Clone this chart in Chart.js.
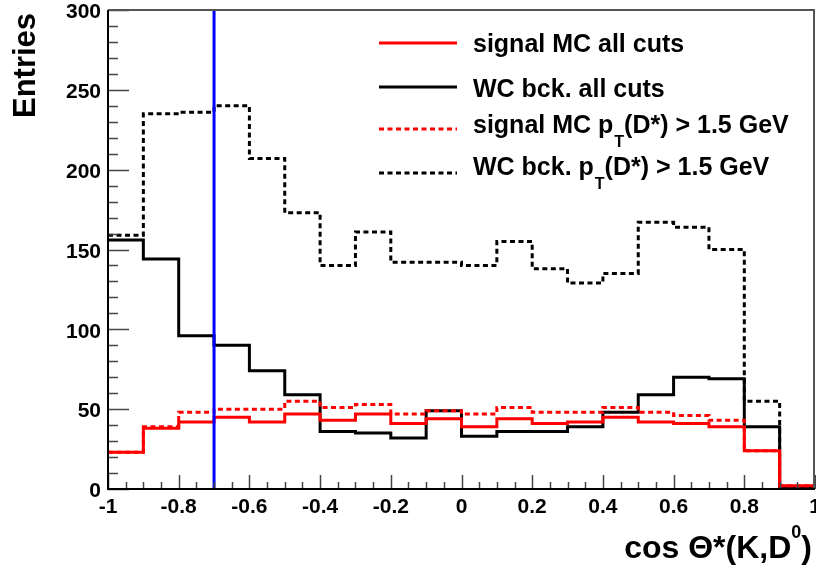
<!DOCTYPE html>
<html>
<head>
<meta charset="utf-8">
<script src="https://cdn.jsdelivr.net/npm/chart.js@4"></script>
<style>
  html, body { margin: 0; padding: 0; background: #fff; }
  canvas { display: block; }
</style>
</head>
<body>
<canvas id="histo" width="816" height="565"></canvas>
<script>
// bin edges of cos theta*
const binEdges = [-1, -0.9, -0.8, -0.7, -0.6, -0.5, -0.4, -0.3, -0.2, -0.1, 0, 0.1, 0.2, 0.3, 0.4, 0.5, 0.6, 0.7, 0.8, 0.9, 1];

const signalAllCuts = [23, 38, 42, 45, 42, 47, 43, 47, 41, 44, 39, 44, 41, 42, 45, 42, 41, 39, 24, 2];
const wcAllCuts     = [156, 144, 96, 90, 74, 59, 36, 35, 32, 49, 33, 36, 36, 39, 48, 59, 70, 69, 39, 1];
const signalPtCut   = [23, 39, 48, 50, 50, 55, 51, 53, 47, 49, 47, 51, 48, 48, 51, 48, 46, 43, 24, 2];
const wcPtCut       = [159, 235, 236, 240, 207, 173, 140, 161, 142, 142, 140, 155, 138, 129, 135, 167, 164, 150, 55, 0];

const cutValue = -0.7;
const yTicks = [0, 50, 100, 150, 200, 250, 300];
const xTicks = [-1, -0.8, -0.6, -0.4, -0.2, 0, 0.2, 0.4, 0.6, 0.8, 1];

const legendLabels = [
  ['signal MC all cuts'],
  ['WC bck. all cuts'],
  ['signal MC p', 'T', '(D*) > 1.5 GeV'],
  ['WC bck. p', 'T', '(D*) > 1.5 GeV']
];

const FONT = '"Liberation Sans", Arial, Helvetica, sans-serif';

function steps(vals) {
  return binEdges.map((x, i) => ({ x, y: vals[Math.min(i, vals.length - 1)] }));
}

const histos = [
  { label: 'WC bck. pT(D*) > 1.5 GeV', data: steps(wcPtCut), color: '#000000', dash: [5, 3.5], order: 4 },
  { label: 'WC bck. all cuts', data: steps(wcAllCuts), color: '#000000', dash: [], order: 3 },
  { label: 'signal MC pT(D*) > 1.5 GeV', data: steps(signalPtCut), color: '#ff0000', dash: [5, 3.5], order: 2 },
  { label: 'signal MC all cuts', data: steps(signalAllCuts), color: '#ff0000', dash: [], order: 1 }
];

const datasets = histos.map(h => ({
  label: h.label,
  data: h.data,
  borderColor: h.color,
  borderWidth: 3,
  borderDash: h.dash,
  borderJoinStyle: 'miter',
  stepped: 'before',
  pointRadius: 0,
  fill: false,
  order: h.order
}));

datasets.push({
  label: 'cut',
  data: [{ x: cutValue, y: yTicks[0] }, { x: cutValue, y: yTicks[yTicks.length - 1] }],
  borderColor: '#0000ff',
  borderWidth: 3,
  pointRadius: 0,
  order: 0
});

// legend order as drawn in the picture
const legendStyle = [
  { color: '#ff0000', dash: [], lineY: 43, baseY: 52 },
  { color: '#000000', dash: [], lineY: 87, baseY: 97 },
  { color: '#ff0000', dash: [5, 3.5], lineY: 129, baseY: 133 },
  { color: '#000000', dash: [5, 3.5], lineY: 173, baseY: 175 }
];

const frameAndText = {
  id: 'frameAndText',
  afterDraw(chart) {
    const ctx = chart.ctx;
    const a = chart.chartArea;
    const xs = chart.scales.x, ys = chart.scales.y;
    ctx.save();

    // ticks inside the frame
    ctx.strokeStyle = '#444';
    ctx.lineWidth = 1.5;
    ctx.beginPath();
    for (let v = ys.min; v <= ys.max + 1e-6; v += 10) {
      const py = Math.round(ys.getPixelForValue(v)) + 0.5;
      const len = (v % 50 === 0) ? 21 : 10;
      ctx.moveTo(a.left, py);
      ctx.lineTo(a.left + len, py);
    }
    for (let k = 0; k <= 40; k++) {
      const v = xs.min + k * 0.05;
      const px = Math.round(xs.getPixelForValue(v)) + 0.5;
      const len = (k % 4 === 0) ? 14 : 7;
      ctx.moveTo(px, a.bottom);
      ctx.lineTo(px, a.bottom - len);
    }
    ctx.stroke();

    // frame
    ctx.lineWidth = 2;
    ctx.strokeStyle = '#555';
    ctx.beginPath();
    ctx.moveTo(a.left, a.top);
    ctx.lineTo(a.right - 1, a.top);
    ctx.lineTo(a.right - 1, a.bottom);
    ctx.stroke();
    ctx.strokeStyle = '#000';
    ctx.beginPath();
    ctx.moveTo(a.left, a.top);
    ctx.lineTo(a.left, a.bottom);
    ctx.lineTo(a.right, a.bottom);
    ctx.stroke();

    // legend
    legendLabels.forEach((parts, i) => {
      const st = legendStyle[i];
      ctx.strokeStyle = st.color;
      ctx.lineWidth = 3;
      ctx.setLineDash(st.dash);
      ctx.beginPath();
      ctx.moveTo(379, st.lineY);
      ctx.lineTo(457, st.lineY);
      ctx.stroke();
      ctx.setLineDash([]);

      ctx.fillStyle = '#000';
      ctx.textBaseline = 'alphabetic';
      ctx.textAlign = 'left';
      let x = 473;
      parts.forEach((p, j) => {
        if (j === 1) {
          ctx.font = 'bold 16px ' + FONT;
          ctx.fillText(p, x + 1, st.baseY + 14);
          x += ctx.measureText(p).width + 1;
        } else {
          ctx.font = 'bold 25px ' + FONT;
          ctx.fillText(p, x, st.baseY);
          x += ctx.measureText(p).width;
        }
      });
    });

    // y title
    ctx.save();
    ctx.translate(35, 118);
    ctx.rotate(-Math.PI / 2);
    ctx.font = 'bold 31px ' + FONT;
    ctx.fillStyle = '#000';
    ctx.textAlign = 'left';
    ctx.fillText('Entries', 0, 0);
    ctx.restore();

    // x title, right aligned
    const big = 'bold 32px ' + FONT, small = 'bold 18px ' + FONT;
    const pieces = [['cos \u0398*(K,D', big, 0], ['0', small, -20], [')', big, 0]];
    let total = 0;
    pieces.forEach(p => { ctx.font = p[1]; total += ctx.measureText(p[0]).width; });
    let tx = 812 - total;
    const base = 558;
    pieces.forEach(p => {
      ctx.font = p[1];
      ctx.fillText(p[0], tx, base + p[2]);
      tx += ctx.measureText(p[0]).width;
    });

    ctx.restore();
  }
};

new Chart(document.getElementById('histo'), {
  type: 'line',
  data: { datasets },
  options: {
    responsive: false,
    animation: false,
    events: [],
    layout: { padding: { left: 0, top: 10, right: 1, bottom: 0 } },
    plugins: { legend: { display: false }, tooltip: { enabled: false } },
    scales: {
      x: {
        type: 'linear',
        min: binEdges[0],
        max: binEdges[binEdges.length - 1],
        grid: { display: false, drawTicks: false },
        border: { display: false },
        afterBuildTicks: s => { s.ticks = xTicks.map(v => ({ value: v })); },
        ticks: {
          color: '#000',
          padding: 6,
          maxRotation: 0,
          autoSkip: false,
          font: { family: FONT, size: 21, weight: 'bold' },
          callback: v => String(Math.round(v * 10) / 10)
        },
        afterFit: s => { s.height = 76; s.paddingLeft = 0; s.paddingRight = 0; }
      },
      y: {
        min: yTicks[0],
        max: yTicks[yTicks.length - 1],
        grid: { display: false, drawTicks: false },
        border: { display: false },
        afterBuildTicks: s => { s.ticks = yTicks.map(v => ({ value: v })); },
        ticks: {
          color: '#000',
          padding: 7,
          labelOffset: 2.5,
          font: { family: FONT, size: 21, weight: 'bold' }
        },
        afterFit: s => { s.width = 108; s.paddingTop = 0; s.paddingBottom = 0; }
      }
    }
  },
  plugins: [frameAndText]
});
</script>
</body>
</html>
